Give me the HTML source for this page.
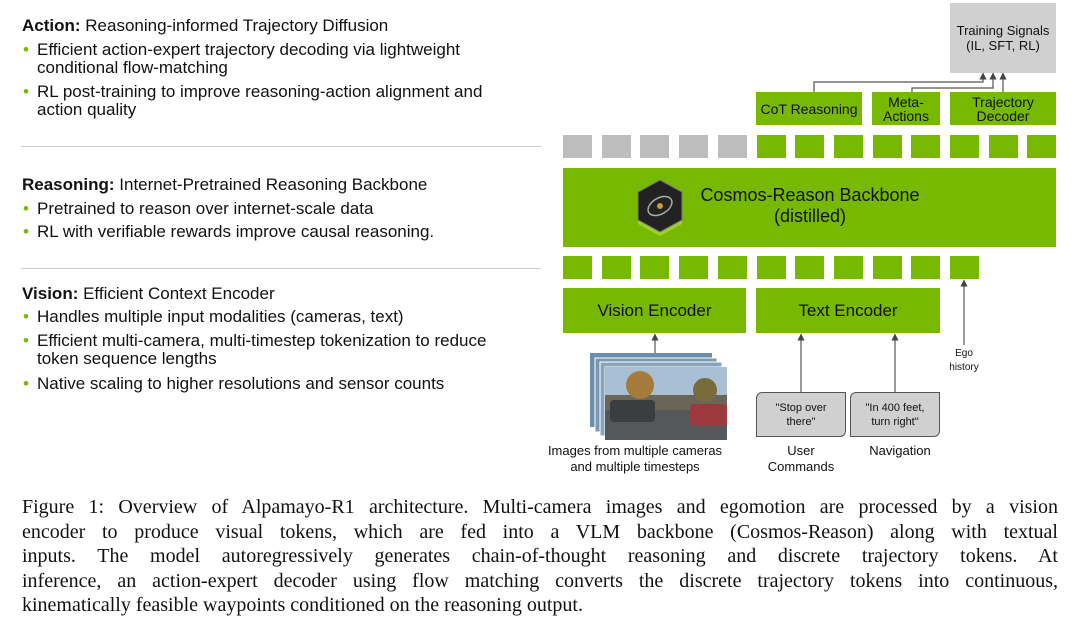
<!DOCTYPE html>
<html><head><meta charset="utf-8"><style>
body{margin:0;width:1080px;height:635px;background:#fff;position:relative;overflow:hidden;font-family:"Liberation Sans","DejaVu Sans",sans-serif;color:#111}
.a{position:absolute}
.t{position:absolute;font-size:17px;white-space:nowrap;line-height:18px}
.b{position:absolute;font-size:17px;white-space:nowrap;line-height:18px;left:37px}
.b::before{content:"•";color:#76b900;position:absolute;left:-14px}
.g{position:absolute;background:#76b900}
.gr{position:absolute;background:#bdbdbd}
.c{display:flex;align-items:center;justify-content:center;text-align:center;color:#111}
.cap{position:absolute;left:22px;width:1036px;font-family:"Liberation Serif",serif;font-size:20px;line-height:24.5px;top:495px}
.cap div{text-align:justify;text-align-last:justify;white-space:nowrap}
.cap div.l{text-align-last:left}
</style></head><body>
<div class="t" style="left:22px;top:17px"><b>Action:</b> Reasoning-informed Trajectory Diffusion</div>
<div class="b" style="top:41px">Efficient action-expert trajectory decoding via lightweight<br>conditional flow-matching</div>
<div class="b" style="top:83px">RL post-training to improve reasoning-action alignment and<br>action quality</div>
<div class="a" style="left:21px;top:146px;width:520px;height:1px;background:#ccc"></div>
<div class="t" style="left:22px;top:176px"><b>Reasoning:</b> Internet-Pretrained Reasoning Backbone</div>
<div class="b" style="top:200px">Pretrained to reason over internet-scale data</div>
<div class="b" style="top:223px">RL with verifiable rewards improve causal reasoning.</div>
<div class="a" style="left:21px;top:268px;width:520px;height:1px;background:#ccc"></div>
<div class="t" style="left:22px;top:285px"><b>Vision:</b> Efficient Context Encoder</div>
<div class="b" style="top:308px">Handles multiple input modalities (cameras, text)</div>
<div class="b" style="top:332px">Efficient multi-camera, multi-timestep tokenization to reduce<br>token sequence lengths</div>
<div class="b" style="top:375px">Native scaling to higher resolutions and sensor counts</div>

<div class="a c" style="left:950px;top:3px;width:106px;height:70px;background:#d0d0d0;font-size:13px;line-height:15px">Training Signals<br>(IL, SFT, RL)</div>
<div class="g c" style="left:756px;top:92px;width:106px;height:33px;font-size:14px">CoT Reasoning</div>
<div class="g c" style="left:872px;top:92px;width:68px;height:33px;font-size:14px;line-height:14px">Meta-<br>Actions</div>
<div class="g c" style="left:950px;top:92px;width:106px;height:33px;font-size:14px;line-height:14px">Trajectory<br>Decoder</div>

<svg class="a" style="left:0;top:0" width="1080" height="635">
<defs><marker id="ar" markerWidth="6" markerHeight="6" refX="3" refY="3" orient="auto"><path d="M0,0L6,3L0,6z" fill="#444"/></marker></defs>
<g stroke="#555" stroke-width="1.2" fill="none">
<path d="M814,92V82H983V76" marker-end="url(#ar)"/>
<path d="M912,92V88H993V76" marker-end="url(#ar)"/>
<path d="M1003,92V76" marker-end="url(#ar)"/>
<path d="M655,353V337" marker-end="url(#ar)"/>
<path d="M801,392V337" marker-end="url(#ar)"/>
<path d="M895,392V337" marker-end="url(#ar)"/>
<path d="M964,345V283" marker-end="url(#ar)"/>
</g>
<g>
<rect x="590" y="353" width="122" height="74" fill="#6d8fae"/>
<rect x="595" y="358" width="122" height="74" fill="#7b98b3" stroke="#fff" stroke-width="1"/>
<rect x="600" y="362" width="122" height="74" fill="#88a3bc" stroke="#fff" stroke-width="1"/>
<rect x="605" y="367" width="122" height="73" fill="#9fb6c9" stroke="#fff" stroke-width="1"/>
<rect x="605" y="367" width="122" height="30" fill="#a9c0d4"/>
<rect x="605" y="395" width="122" height="20" fill="#6a6556"/>
<circle cx="640" cy="385" r="14" fill="#a57a3c"/>
<circle cx="705" cy="390" r="12" fill="#7a6b3a"/>
<rect x="605" y="410" width="122" height="30" fill="#55585a"/>
<rect x="610" y="400" width="45" height="22" rx="4" fill="#3b3d40"/>
<rect x="690" y="404" width="37" height="22" rx="4" fill="#9a3a3e"/>
</g>
</svg>

<div class="gr" style="left:563px;top:135px;width:29px;height:23px"></div>
<div class="gr" style="left:601.7px;top:135px;width:29px;height:23px"></div>
<div class="gr" style="left:640.4px;top:135px;width:29px;height:23px"></div>
<div class="gr" style="left:679.1px;top:135px;width:29px;height:23px"></div>
<div class="gr" style="left:717.8px;top:135px;width:29px;height:23px"></div>
<div class="g" style="left:756.5px;top:135px;width:29px;height:23px"></div>
<div class="g" style="left:795.2px;top:135px;width:29px;height:23px"></div>
<div class="g" style="left:833.9px;top:135px;width:29px;height:23px"></div>
<div class="g" style="left:872.6px;top:135px;width:29px;height:23px"></div>
<div class="g" style="left:911.3px;top:135px;width:29px;height:23px"></div>
<div class="g" style="left:950px;top:135px;width:29px;height:23px"></div>
<div class="g" style="left:988.7px;top:135px;width:29px;height:23px"></div>
<div class="g" style="left:1027px;top:135px;width:29px;height:23px"></div>

<div class="g" style="left:563px;top:168px;width:493px;height:79px"></div>
<svg class="a" style="left:636px;top:180px" width="48" height="58">
<polygon points="24,2 46,14 46,44 24,56 2,44 2,14" fill="#9cd22a"/>
<polygon points="24,0 46,12 46,40 24,52 2,40 2,12" fill="#222" stroke="#777" stroke-width="1"/>
<ellipse cx="24" cy="26" rx="13" ry="8" fill="none" stroke="#aaa" stroke-width="1.5" transform="rotate(-30 24 26)"/>
<circle cx="24" cy="26" r="3" fill="#c99a2e"/>
</svg>
<div class="a c" style="left:690px;top:184px;width:240px;height:44px;font-size:18px;line-height:21px">Cosmos-Reason Backbone<br>(distilled)</div>

<div class="g" style="left:563px;top:256px;width:29px;height:23px"></div>
<div class="g" style="left:601.7px;top:256px;width:29px;height:23px"></div>
<div class="g" style="left:640.4px;top:256px;width:29px;height:23px"></div>
<div class="g" style="left:679.1px;top:256px;width:29px;height:23px"></div>
<div class="g" style="left:717.8px;top:256px;width:29px;height:23px"></div>
<div class="g" style="left:756.5px;top:256px;width:29px;height:23px"></div>
<div class="g" style="left:795.2px;top:256px;width:29px;height:23px"></div>
<div class="g" style="left:833.9px;top:256px;width:29px;height:23px"></div>
<div class="g" style="left:872.6px;top:256px;width:29px;height:23px"></div>
<div class="g" style="left:911.3px;top:256px;width:29px;height:23px"></div>
<div class="g" style="left:950px;top:256px;width:29px;height:23px"></div>

<div class="g c" style="left:563px;top:288px;width:183px;height:45px;font-size:17px">Vision Encoder</div>
<div class="g c" style="left:756px;top:288px;width:184px;height:45px;font-size:17px">Text Encoder</div>

<div class="a c" style="left:756px;top:392px;width:88px;height:43px;background:#d0d0d0;border:1px solid #555;border-radius:6px 0 6px 0;font-size:11px;line-height:14px">"Stop over<br>there"</div>
<div class="a c" style="left:850px;top:392px;width:88px;height:43px;background:#d0d0d0;border:1px solid #555;border-radius:6px 0 6px 0;font-size:11px;line-height:14px">"In 400 feet,<br>turn right"</div>

<div class="a c" style="left:545px;top:443px;width:180px;font-size:13px;line-height:16px">Images from multiple cameras<br>and multiple timesteps</div>
<div class="a c" style="left:761px;top:443px;width:80px;font-size:13px;line-height:16px">User<br>Commands</div>
<div class="a c" style="left:850px;top:443px;width:100px;font-size:13px;line-height:16px">Navigation</div>
<div class="a c" style="left:939px;top:347px;width:50px;font-size:10px;line-height:14px">Ego<br>history</div>

<div class="cap">
<div>Figure 1: Overview of Alpamayo-R1 architecture. Multi-camera images and egomotion are processed by a vision</div>
<div>encoder to produce visual tokens, which are fed into a VLM backbone (Cosmos-Reason) along with textual</div>
<div>inputs. The model autoregressively generates chain-of-thought reasoning and discrete trajectory tokens. At</div>
<div>inference, an action-expert decoder using flow matching converts the discrete trajectory tokens into continuous,</div>
<div class="l">kinematically feasible waypoints conditioned on the reasoning output.</div>
</div>
</body></html>
